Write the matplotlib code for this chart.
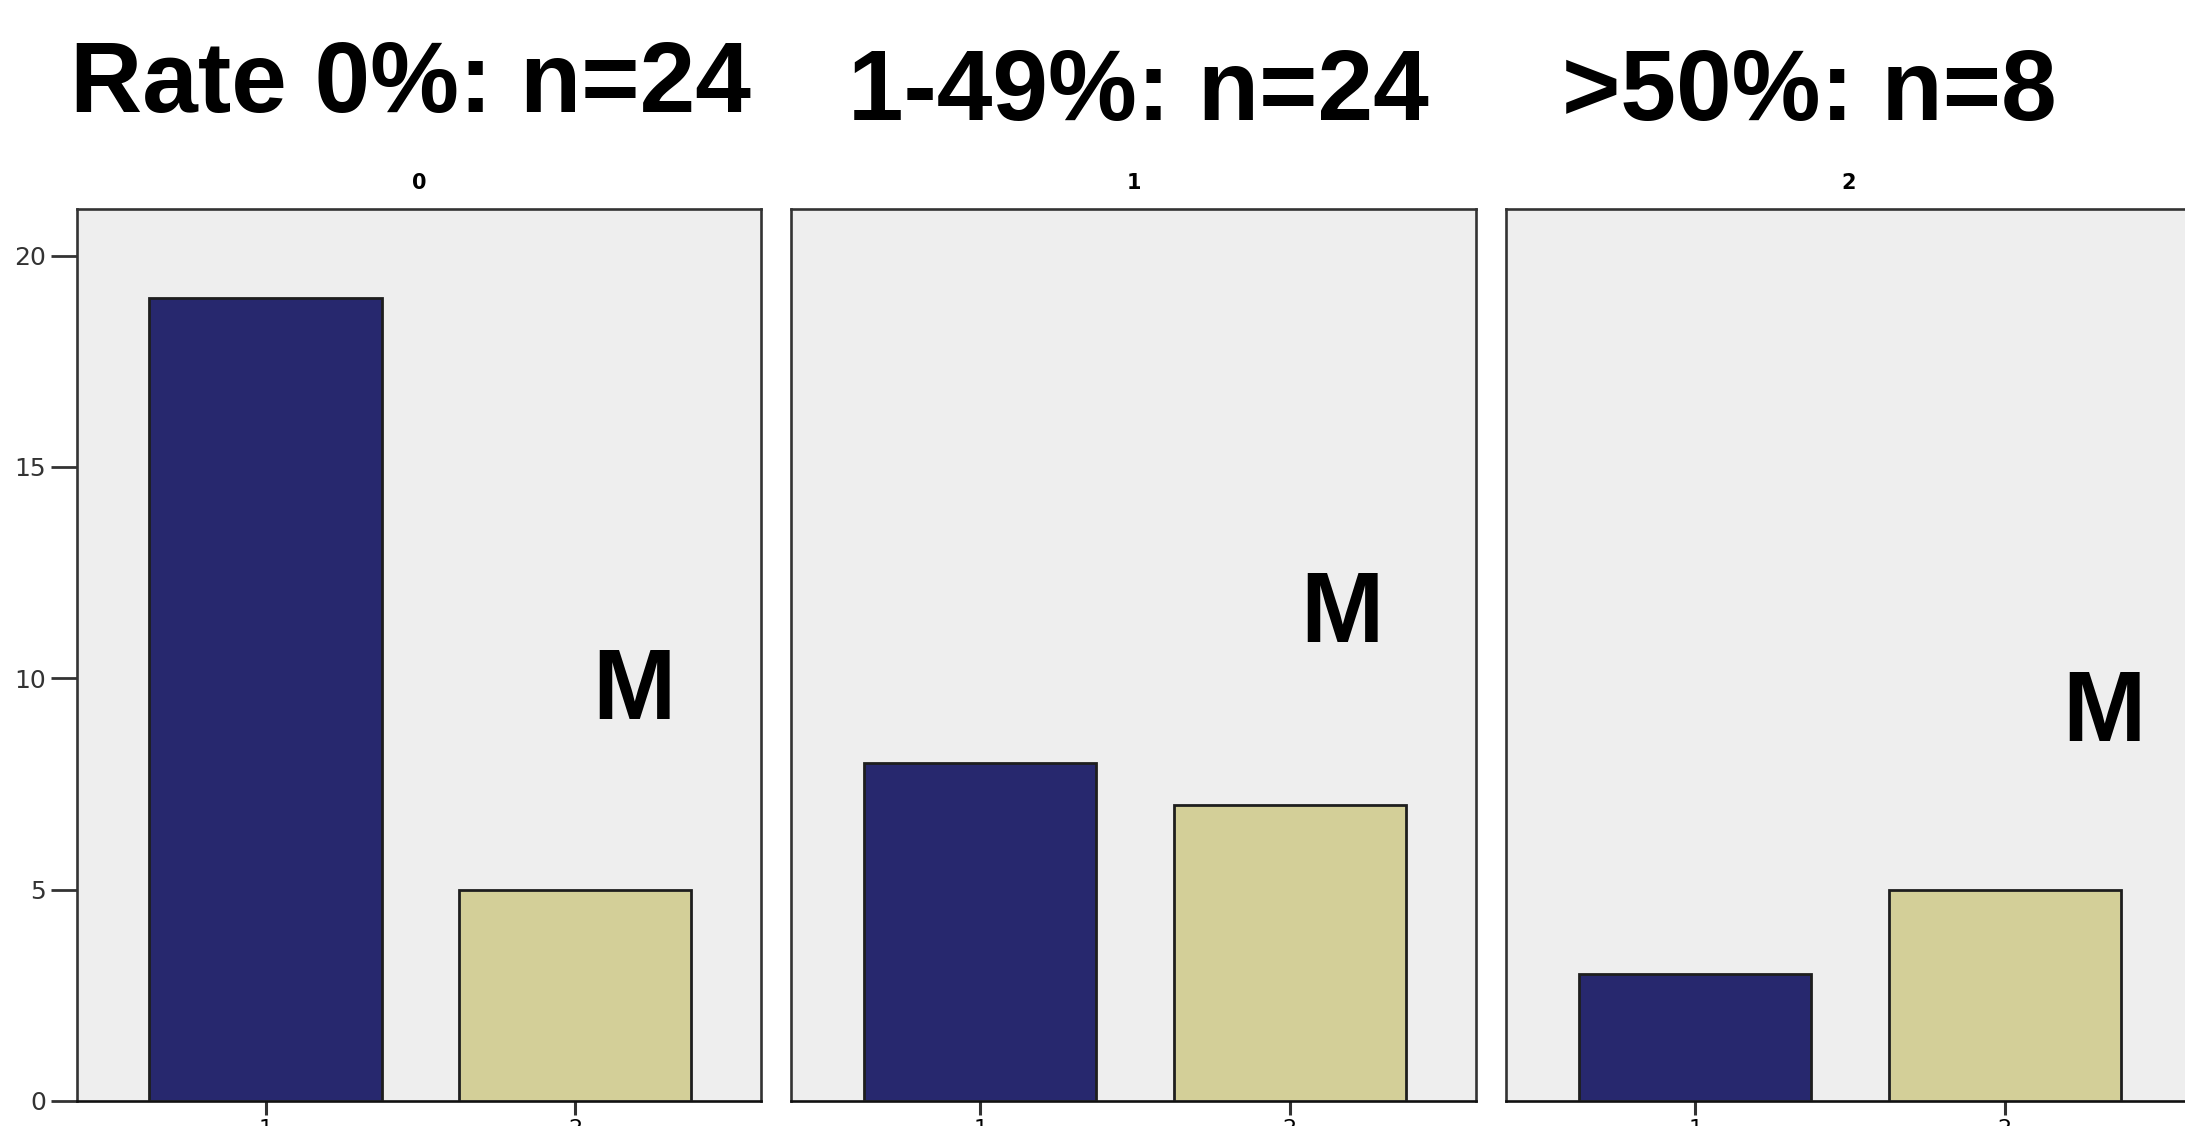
import matplotlib
matplotlib.use("Agg")
import matplotlib.pyplot as plt

# ---- data ----
panel_labels = ["0", "1", "2"]
panel_titles = ["Rate 0%: n=24", "1-49%: n=24", ">50%: n=8"]
categories = [1, 2]
counts_cat1 = [19, 8, 3]   # dark blue bars
counts_cat2 = [5, 7, 5]    # khaki bars
y_ticks = [0, 5, 10, 15, 20]
m_label = "M"
m_positions = [(2.19, 9.65), (2.17, 11.47), (2.32, 9.13)]

# ---- styling ----
W, H, DPI = 2185, 1126, 100
fig = plt.figure(figsize=(W / DPI, H / DPI), dpi=DPI)
fig.patch.set_facecolor("white")

blue = "#27286E"
khaki = "#D3CF98"
bg = "#EEEEEE"
edge = "#1E1E1E"

lefts = [0.0351, 0.3622, 0.6894]
bottom, width, height = 0.0223, 0.3131, 0.792

title_x = [0.188, 0.521, 0.828]
title_y = [0.9005, 0.8934, 0.8934]

for i in range(3):
    ax = fig.add_axes([lefts[i], bottom, width, height])
    ax.set_facecolor(bg)
    ax.bar(categories, [counts_cat1[i], counts_cat2[i]], width=0.75,
           color=[blue, khaki], edgecolor=edge, linewidth=2.0, zorder=3)
    ax.set_xlim(0.39, 2.60)
    ax.set_ylim(0, 21.1)
    for s in ax.spines.values():
        s.set_linewidth(1.9)
        s.set_color("#333333")
    ax.spines["bottom"].set_color("#111111")
    ax.set_xticks(categories)
    ax.set_xticklabels([str(c) for c in categories], fontsize=16,
                       fontfamily="DejaVu Sans")
    ax.tick_params(axis="x", length=10, width=2.2, color="#333333", pad=3)
    if i == 0:
        ax.set_yticks(y_ticks)
        ax.set_yticklabels([str(t) for t in y_ticks], fontsize=18,
                           fontfamily="DejaVu Sans", color="#333333")
        ax.tick_params(axis="y", length=19, width=2, color="#333333", pad=3)
        ax.get_yticklines()[-2].set_color("#BBBBBB")
    else:
        ax.set_yticks([])
    ax.text(m_positions[i][0], m_positions[i][1], m_label, ha="center",
            va="center", fontsize=72, fontweight="bold",
            fontfamily="Liberation Sans", color="black", zorder=4)
    fig.text(lefts[i] + width / 2, 0.8375, panel_labels[i], ha="center",
             va="center", fontsize=15, fontweight="bold",
             fontfamily="DejaVu Sans")
    fig.text(title_x[i], title_y[i], panel_titles[i], ha="center",
             va="baseline", fontsize=72, fontweight="bold",
             fontfamily="Liberation Sans")

fig.savefig("out.png", dpi=DPI)
